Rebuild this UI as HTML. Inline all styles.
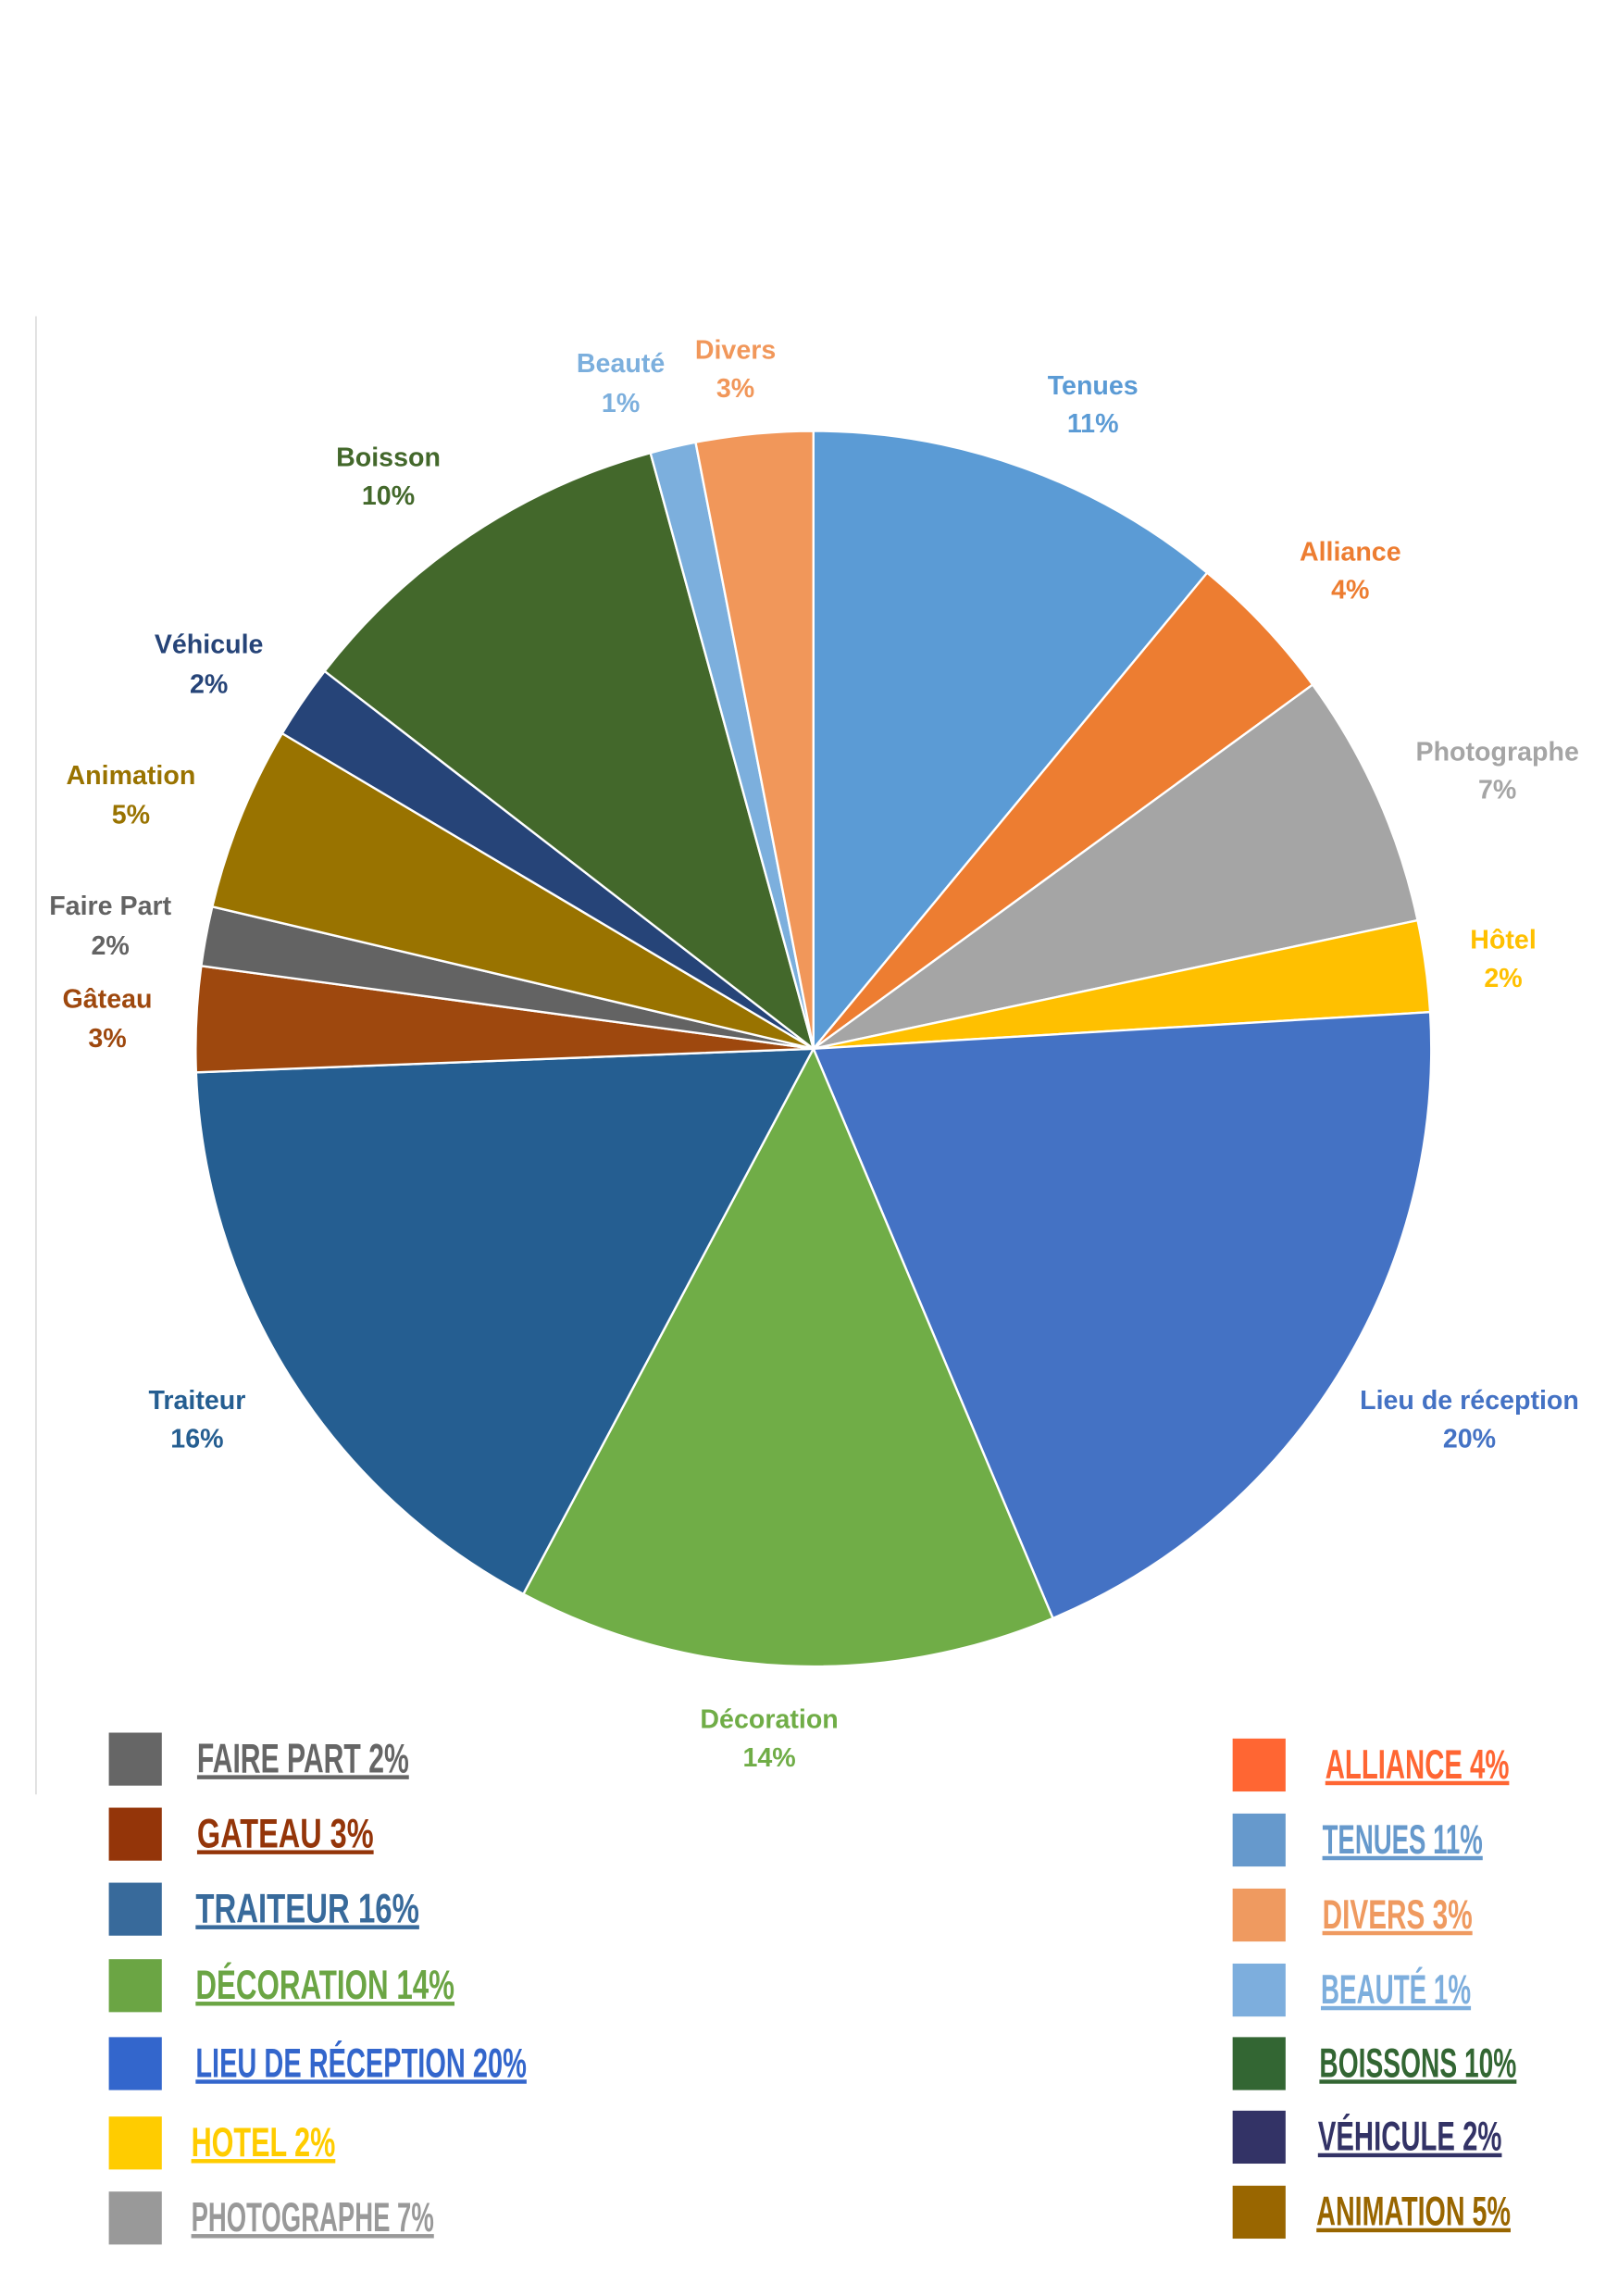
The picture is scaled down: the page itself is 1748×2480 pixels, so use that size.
<!DOCTYPE html>
<html><head><meta charset="utf-8"><style>
html,body{margin:0;padding:0;background:#fff;}
svg{display:block;}
.l{font-family:"Liberation Sans",sans-serif;font-weight:bold;font-size:18px;text-anchor:middle;}
.g{font-family:"Liberation Sans",sans-serif;font-weight:bold;font-size:28px;text-decoration:underline;}
</style></head><body>
<svg width="1748" height="2480" viewBox="0 0 1100 1561" preserveAspectRatio="none" xmlns="http://www.w3.org/2000/svg">
<rect width="1100" height="1561" fill="#fff"/>
<line x1="24.5" y1="215" x2="24.5" y2="1220" stroke="#d9d9d9" stroke-width="1"/>
<g stroke="#fff" stroke-width="1.5" stroke-linejoin="round">
<path d="M553,713 L553,293 A420,420 0 0 1 820.7,389.4 Z" fill="#5b9bd5"/>
<path d="M553,713 L820.7,389.4 A420,420 0 0 1 892.4,465.5 Z" fill="#ed7d31"/>
<path d="M553,713 L892.4,465.5 A420,420 0 0 1 963.8,625.7 Z" fill="#a5a5a5"/>
<path d="M553,713 L963.8,625.7 A420,420 0 0 1 972.3,688.1 Z" fill="#ffc000"/>
<path d="M553,713 L972.3,688.1 A420,420 0 0 1 715.8,1100.2 Z" fill="#4472c4"/>
<path d="M553,713 L715.8,1100.2 A420,420 0 0 1 355.8,1083.8 Z" fill="#70ad47"/>
<path d="M553,713 L355.8,1083.8 A420,420 0 0 1 133.3,729.1 Z" fill="#255e91"/>
<path d="M553,713 L133.3,729.1 A420,420 0 0 1 136.8,656.7 Z" fill="#9e480e"/>
<path d="M553,713 L136.8,656.7 A420,420 0 0 1 144.3,616.4 Z" fill="#636363"/>
<path d="M553,713 L144.3,616.4 A420,420 0 0 1 191.8,498.6 Z" fill="#997300"/>
<path d="M553,713 L191.8,498.6 A420,420 0 0 1 220.7,456.3 Z" fill="#264478"/>
<path d="M553,713 L220.7,456.3 A420,420 0 0 1 442.2,307.9 Z" fill="#43682b"/>
<path d="M553,713 L442.2,307.9 A420,420 0 0 1 472.9,300.7 Z" fill="#7cafdd"/>
<path d="M553,713 L472.9,300.7 A420,420 0 0 1 553,293 Z" fill="#f1975a"/>
</g>
<g class="l">
<text x="743" y="268" fill="#5b9bd5">Tenues</text><text x="743" y="294" fill="#5b9bd5">11%</text>
<text x="918" y="381" fill="#ed7d31">Alliance</text><text x="918" y="407" fill="#ed7d31">4%</text>
<text x="1018" y="517" fill="#a5a5a5">Photographe</text><text x="1018" y="543" fill="#a5a5a5">7%</text>
<text x="1022" y="645" fill="#ffc000">Hôtel</text><text x="1022" y="671" fill="#ffc000">2%</text>
<text x="999" y="958" fill="#4472c4">Lieu de réception</text><text x="999" y="984" fill="#4472c4">20%</text>
<text x="523" y="1175" fill="#70ad47">Décoration</text><text x="523" y="1201" fill="#70ad47">14%</text>
<text x="134" y="958" fill="#255e91">Traiteur</text><text x="134" y="984" fill="#255e91">16%</text>
<text x="73" y="685" fill="#9e480e">Gâteau</text><text x="73" y="712" fill="#9e480e">3%</text>
<text x="75" y="622" fill="#636363">Faire Part</text><text x="75" y="649" fill="#636363">2%</text>
<text x="89" y="533" fill="#997300">Animation</text><text x="89" y="560" fill="#997300">5%</text>
<text x="142" y="444" fill="#264478">Véhicule</text><text x="142" y="471" fill="#264478">2%</text>
<text x="264" y="317" fill="#43682b">Boisson</text><text x="264" y="343" fill="#43682b">10%</text>
<text x="422" y="253" fill="#7cafdd">Beauté</text><text x="422" y="280" fill="#7cafdd">1%</text>
<text x="500" y="244" fill="#f1975a">Divers</text><text x="500" y="270" fill="#f1975a">3%</text>
</g>
<g>
<rect x="74" y="1178" width="36" height="36" fill="#666"/><text class="g" x="134" y="1205" fill="#666" textLength="144" lengthAdjust="spacingAndGlyphs">FAIRE PART 2%</text>
<rect x="74" y="1229" width="36" height="36" fill="#943509"/><text class="g" x="134" y="1256" fill="#943509" textLength="120" lengthAdjust="spacingAndGlyphs">GATEAU 3%</text>
<rect x="74" y="1280" width="36" height="36" fill="#386a9b"/><text class="g" x="133" y="1307" fill="#386a9b" textLength="152" lengthAdjust="spacingAndGlyphs">TRAITEUR 16%</text>
<rect x="74" y="1332" width="36" height="36" fill="#6ba544"/><text class="g" x="133" y="1359" fill="#6ba544" textLength="176" lengthAdjust="spacingAndGlyphs">DÉCORATION 14%</text>
<rect x="74" y="1385" width="36" height="36" fill="#3366cc"/><text class="g" x="133" y="1412" fill="#3366cc" textLength="225" lengthAdjust="spacingAndGlyphs">LIEU DE RÉCEPTION 20%</text>
<rect x="74" y="1439" width="36" height="36" fill="#ffcc00"/><text class="g" x="130" y="1466" fill="#ffcc00" textLength="98" lengthAdjust="spacingAndGlyphs">HOTEL 2%</text>
<rect x="74" y="1490" width="36" height="36" fill="#999"/><text class="g" x="130" y="1517" fill="#999" textLength="165" lengthAdjust="spacingAndGlyphs">PHOTOGRAPHE 7%</text>
<rect x="838" y="1182" width="36" height="36" fill="#ff6633"/><text class="g" x="901" y="1209" fill="#ff6633" textLength="125" lengthAdjust="spacingAndGlyphs">ALLIANCE 4%</text>
<rect x="838" y="1233" width="36" height="36" fill="#6699cc"/><text class="g" x="899" y="1260" fill="#6699cc" textLength="109" lengthAdjust="spacingAndGlyphs">TENUES 11%</text>
<rect x="838" y="1284" width="36" height="36" fill="#ef9a60"/><text class="g" x="899" y="1311" fill="#ef9a60" textLength="102" lengthAdjust="spacingAndGlyphs">DIVERS 3%</text>
<rect x="838" y="1335" width="36" height="36" fill="#7daedd"/><text class="g" x="898" y="1362" fill="#7daedd" textLength="102" lengthAdjust="spacingAndGlyphs">BEAUTÉ 1%</text>
<rect x="838" y="1385" width="36" height="36" fill="#336633"/><text class="g" x="897" y="1412" fill="#336633" textLength="134" lengthAdjust="spacingAndGlyphs">BOISSONS 10%</text>
<rect x="838" y="1435" width="36" height="36" fill="#333366"/><text class="g" x="896" y="1462" fill="#333366" textLength="125" lengthAdjust="spacingAndGlyphs">VÉHICULE 2%</text>
<rect x="838" y="1486" width="36" height="36" fill="#996600"/><text class="g" x="895" y="1513" fill="#996600" textLength="132" lengthAdjust="spacingAndGlyphs">ANIMATION 5%</text>
</g>
</svg>
</body></html>
